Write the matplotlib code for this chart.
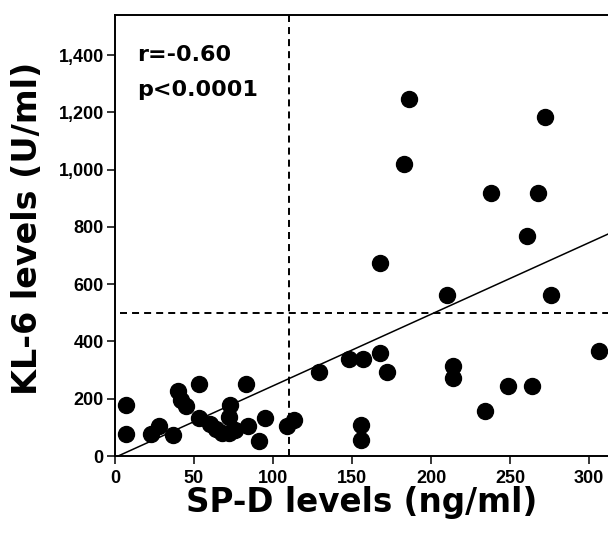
import matplotlib.pyplot as plt

# SP-D (ng/ml) vs KL-6 (U/ml)
spd = [7, 7, 23, 28, 37, 40, 42, 45, 53, 53, 60, 64, 68, 72, 76, 72, 73,
       83, 84, 91, 95, 109, 113,
       129, 148, 157, 168, 172, 156, 156, 214, 214, 234, 249, 264, 306,
       210, 276,
       186, 272, 183, 238, 268, 261, 168]
kl6 = [178, 78, 78, 104, 73, 227, 197, 176, 251, 133, 111, 95, 82, 82, 92, 135, 178,
       251, 104, 54, 133, 104, 125,
       292, 340, 340, 360, 294, 107, 57, 315, 274, 158, 246, 246, 365,
       562, 562,
       1245, 1183, 1020, 918, 918, 768, 675]

# cut-off levels and regression line shown in the figure
SPD_CUTOFF = 110
KL6_CUTOFF = 500
FIT_SLOPE = 2.5
FIT_INTERCEPT = -5
X_MAX = 312
Y_MAX = 1540

xticks = [0, 50, 100, 150, 200, 250, 300]
yticks = [0, 200, 400, 600, 800, 1000, 1200, 1400]
ytick_labels = ["0", "200", "400", "600", "800", "1,000", "1,200", "1,400"]

fig = plt.figure(figsize=(6.08, 5.38), dpi=100)
ax = fig.add_axes([0.1891, 0.1524, 0.8109, 0.8197])

ax.plot(spd, kl6, "o", color="black", markersize=11.5, zorder=3)

# dashed cut-off lines
ax.axvline(SPD_CUTOFF, color="black", lw=1.4, ls=(0, (3.6, 2.6)), zorder=2)
ax.plot([3, X_MAX], [KL6_CUTOFF, KL6_CUTOFF], color="black", lw=1.4,
        ls=(0, (3.6, 2.6)), zorder=2)

# regression line
fx = [2, X_MAX]
fy = [FIT_SLOPE * v + FIT_INTERCEPT for v in fx]
ax.plot(fx, fy, color="black", lw=1.1, zorder=2)

ax.set_xlim(0, X_MAX)
ax.set_ylim(0, Y_MAX)
ax.set_xticks(xticks)
ax.set_yticks(yticks)
ax.set_yticklabels(ytick_labels)

for s in ["left", "bottom", "top"]:
    ax.spines[s].set_linewidth(1.4)
ax.spines["right"].set_visible(False)

ax.tick_params(axis="both", direction="out", length=6, width=1.1)
ax.tick_params(axis="x", pad=4)
ax.tick_params(axis="y", pad=2)
for lab in ax.get_xticklabels() + ax.get_yticklabels():
    lab.set_fontfamily("Liberation Sans")
    lab.set_fontweight("bold")
    lab.set_fontsize(13)

ax.text(0.045, 0.932, "r=-0.60", transform=ax.transAxes, ha="left", va="top",
        fontsize=16, fontweight="bold", family="DejaVu Sans")
ax.text(0.045, 0.852, "p<0.0001", transform=ax.transAxes, ha="left", va="top",
        fontsize=16, fontweight="bold", family="DejaVu Sans")

fig.text(0.594, 0.048, "SP-D levels (ng/ml)", ha="center", va="baseline",
         fontsize=23.5, fontweight="bold", family="DejaVu Sans")
fig.text(0.046, 0.576, "KL-6 levels (U/ml)", ha="center", va="center",
         rotation=90, fontsize=24, fontweight="bold", family="DejaVu Sans")

fig.savefig("out.png", dpi=100)
